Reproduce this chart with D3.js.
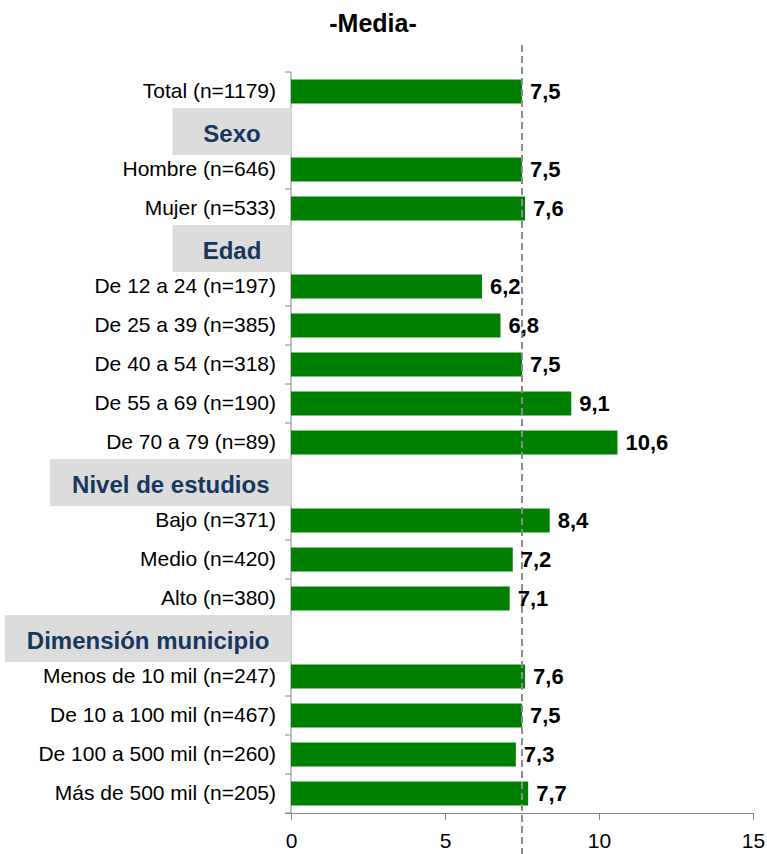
<!DOCTYPE html>
<html>
<head>
<meta charset="utf-8">
<script src="https://cdn.jsdelivr.net/npm/d3@7"></script>
<style>
  body { margin: 0; background: #fff; }
  text { font-family: "Liberation Sans", Arial, sans-serif; }
</style>
</head>
<body>
<div id="vis"></div>
<script>
const FRAME_WIDTH = 767;
const FRAME_HEIGHT = 854;
const MARGINS = {left: 291, right: 14, top: 72, bottom: 41};

// rows, top to bottom (group titles have a null value)
const ROWS = ["Total (n=1179)", "Sexo", "Hombre (n=646)", "Mujer (n=533)",
  "Edad", "De 12 a 24 (n=197)", "De 25 a 39 (n=385)", "De 40 a 54 (n=318)",
  "De 55 a 69 (n=190)", "De 70 a 79 (n=89)", "Nivel de estudios",
  "Bajo (n=371)", "Medio (n=420)", "Alto (n=380)", "Dimensión municipio",
  "Menos de 10 mil (n=247)", "De 10 a 100 mil (n=467)",
  "De 100 a 500 mil (n=260)", "Más de 500 mil (n=205)"];
const VALUES = [7.5, null, 7.5, 7.6, null, 6.2, 6.8, 7.5, 9.1, 10.6, null,
  8.4, 7.2, 7.1, null, 7.6, 7.5, 7.3, 7.7];
const GROUPS = ["Sexo", "Edad", "Nivel de estudios", "Dimensión municipio"];
const X_TICKS = [0, 5, 10, 15];
const MEDIA_TOTAL = 7.5;
const TITLE = "-Media-";

const data = ROWS.map((r, i) => ({label: r, value: VALUES[i]}));

const FRAME = d3.select("#vis")
  .append("svg")
  .attr("width", FRAME_WIDTH)
  .attr("height", FRAME_HEIGHT);

const X_SCALE = d3.scaleLinear()
  .domain([0, 15])
  .range([MARGINS.left, FRAME_WIDTH - MARGINS.right]);

const Y_SCALE = d3.scaleBand()
  .domain(ROWS)
  .range([MARGINS.top, FRAME_HEIGHT - MARGINS.bottom])
  .paddingInner(0.385)
  .paddingOuter(0.1925);

const step = Y_SCALE.step();
const center = (d) => Y_SCALE(d) + Y_SCALE.bandwidth() / 2;
const fmt = (v) => d3.format(".1f")(v).replace(".", ",");

// title
FRAME.append("text")
  .attr("x", 373)
  .attr("y", 32)
  .attr("text-anchor", "middle")
  .attr("font-size", 25)
  .attr("font-weight", "bold")
  .text(TITLE);

// y axis: line + small ticks at row boundaries
const yBottom = FRAME_HEIGHT - MARGINS.bottom;
FRAME.append("line")
  .attr("x1", MARGINS.left).attr("x2", MARGINS.left)
  .attr("y1", MARGINS.top).attr("y2", yBottom)
  .attr("stroke", "#868686");
FRAME.selectAll(".ytick")
  .data(d3.range(ROWS.length + 1))
  .enter()
  .append("line")
  .attr("x1", MARGINS.left - 6).attr("x2", MARGINS.left)
  .attr("y1", (i) => MARGINS.top + i * step)
  .attr("y2", (i) => MARGINS.top + i * step)
  .attr("stroke", "#868686");

// x axis
const xAxis = FRAME.append("g")
  .attr("transform", `translate(0,${yBottom})`)
  .call(d3.axisBottom(X_SCALE).tickValues(X_TICKS).tickSize(7).tickSizeOuter(0).tickPadding(13));
xAxis.select(".domain")
  .attr("d", `M${MARGINS.left - 6},0.5H${X_SCALE(15)}`)
  .attr("stroke", "#868686");
xAxis.selectAll(".tick line").attr("stroke", "#868686");
xAxis.selectAll(".tick text")
  .attr("font-size", 21)
  .attr("font-family", "Liberation Sans, Arial, sans-serif")
  .attr("fill", "#000");

// bars
const barData = data.filter((d) => d.value !== null);
FRAME.selectAll(".bar")
  .data(barData)
  .enter()
  .append("rect")
  .attr("x", X_SCALE(0))
  .attr("y", (d) => Y_SCALE(d.label))
  .attr("width", (d) => X_SCALE(d.value) - X_SCALE(0))
  .attr("height", Y_SCALE.bandwidth())
  .attr("fill", "#008000");

// group title boxes
const groupData = data.filter((d) => GROUPS.includes(d.label));
const groupG = FRAME.selectAll(".group")
  .data(groupData)
  .enter()
  .append("g");
groupG.append("rect").attr("class", "gbox");
groupG.append("text")
  .attr("text-anchor", "middle")
  .attr("font-size", 24)
  .attr("font-weight", "bold")
  .attr("fill", "#17375E")
  .text((d) => d.label);
groupG.each(function(d) {
  const g = d3.select(this);
  const tw = g.select("text").node().getComputedTextLength();
  const bw = Math.max(119, tw + 44);
  g.select("rect")
    .attr("x", MARGINS.left + 0.5 - bw)
    .attr("y", center(d.label) - 22.5)
    .attr("width", bw)
    .attr("height", 47)
    .attr("fill", "#DCDCDC");
  g.select("text")
    .attr("x", MARGINS.left + 0.5 - bw / 2)
    .attr("y", center(d.label) + 11);
});

// category labels
FRAME.selectAll(".label")
  .data(barData)
  .enter()
  .append("text")
  .attr("x", MARGINS.left - 15)
  .attr("y", (d) => center(d.label) + 6.5)
  .attr("text-anchor", "end")
  .attr("font-size", 21)
  .text((d) => d.label);

// mean reference line
FRAME.append("line")
  .attr("x1", X_SCALE(MEDIA_TOTAL)).attr("x2", X_SCALE(MEDIA_TOTAL))
  .attr("y1", 45).attr("y2", FRAME_HEIGHT)
  .attr("stroke", "#8C8C8C")
  .attr("stroke-width", 2)
  .attr("stroke-dasharray", "7,4");

// value labels
FRAME.selectAll(".value")
  .data(barData)
  .enter()
  .append("text")
  .attr("x", (d) => X_SCALE(d.value) + 8)
  .attr("y", (d) => center(d.label) + 7)
  .attr("font-size", 22)
  .attr("font-weight", "bold")
  .text((d) => fmt(d.value));
</script>
</body>
</html>
